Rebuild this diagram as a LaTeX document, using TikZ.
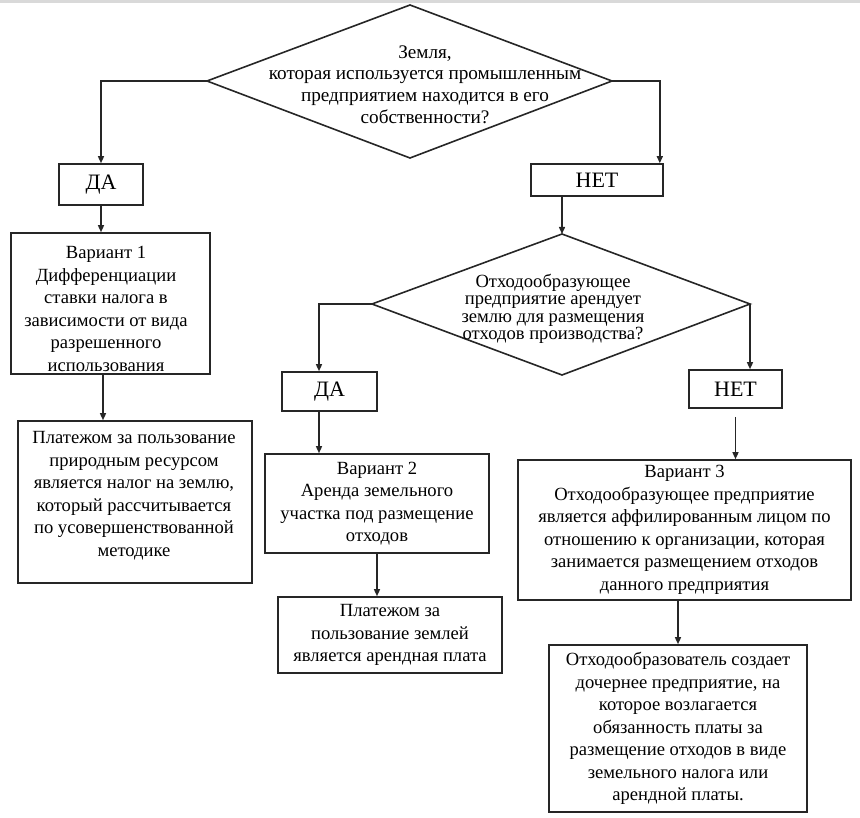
\documentclass[tikz,border=0pt]{standalone}
\usepackage{fontspec}
\setmainfont{Liberation Serif}
\usetikzlibrary{arrows.meta,calc}
\begin{document}
\begin{tikzpicture}[x=1pt,y=-1pt,
 conn/.style={line width=1.4pt, draw=black!85},
 arr/.style={conn, -{Triangle[length=7pt,width=6pt]}},
 box/.style={draw=black!85, line width=1.6pt, inner sep=0pt, align=center, font=\fontsize{18.6}{22.5}\selectfont},
 answer/.style={box, font=\fontsize{22}{24}\selectfont},
 txt/.style={align=center, font=\fontsize{18.6}{22.5}\selectfont, inner sep=0pt},
 shp/.style={draw=black!85, line width=1.6pt},
]
\useasboundingbox (0,0) rectangle (860,818);
\fill[gray!30] (0,0) rectangle (860,3);

% decisions
\draw[shp] (410,5) coordinate (d1t) -- (612,81) coordinate (d1r) -- (410,158) coordinate (d1b) -- (207,81) coordinate (d1l) -- cycle;
\node[txt, font=\fontsize{19.2}{21.7}\selectfont] (d1txt) at (425,84.5) {Земля,\\которая используется промышленным\\предприятием находится в его\\собственности?};

\draw[shp] (562,234) coordinate (d2t) -- (750,304) coordinate (d2r) -- (562,375) coordinate (d2b) -- (372,304) coordinate (d2l) -- cycle;
\node[txt, font=\fontsize{18.6}{17.5}\selectfont] (d2txt) at (553,309) {Отходообразующее\\предприятие арендует\\землю для размещения\\отходов производства?};

% boxes
\node[answer, minimum width=84pt, minimum height=41pt] (da1) at (101,184.5) {ДА};
\node[answer, minimum width=132pt, minimum height=32pt] (net1) at (597,180) {НЕТ};
\node[box, minimum width=199pt, minimum height=141pt] (v1) at (110.5,303.5) {};
\node[txt] (v1txt) at (106,309) {Вариант 1\\Дифференциации\\ставки налога в\\зависимости от вида\\разрешенного\\использования};
\node[box, minimum width=234pt, minimum height=162pt] (p1) at (135,502) {};
\node[txt] (p1txt) at (134,495.5) {Платежом за пользование\\природным ресурсом\\является налог на землю,\\который рассчитывается\\по усовершенствованной\\методике};

\node[answer, minimum width=95pt, minimum height=39pt] (da2) at (329.5,391.5) {ДА};
\node[answer, minimum width=93pt, minimum height=38pt] (net2) at (735.5,389) {НЕТ};
\node[box, minimum width=224pt, minimum height=99pt] (v2) at (377,503.5) {Вариант 2\\Аренда земельного\\участка под размещение\\отходов};
\node[box, minimum width=224pt, minimum height=76pt] (p2) at (390,635) {Платежом за\\пользование землей\\является арендная плата};
\node[box, minimum width=333pt, minimum height=140pt] (v3) at (684.5,530) {Вариант 3\\Отходообразующее предприятие\\является аффилированным лицом по\\отношению к организации, которая\\занимается размещением отходов\\данного предприятия};
\node[box, minimum width=258pt, minimum height=167pt] (p3) at (678,728.5) {Отходообразователь создает\\дочернее предприятие, на\\которое возлагается\\обязанность платы за\\размещение отходов в виде\\земельного налога или\\арендной платы.};

% connectors
\draw[arr] (d1l) -| (da1.north);
\draw[arr] (d1r) -| ([xshift=-4pt]net1.north east);
\draw[arr] (net1.south -| d2t) -- (d2t);
\draw[arr] (da1.south) -- (da1.south |- v1.north);
\draw[arr] ([xshift=-7.5pt]v1.south) -- ([xshift=-7.5pt]v1.south |- p1.north);
\draw[arr] (d2l) -| ([xshift=-10.5pt]da2.north);
\draw[arr] (d2r) -- (d2r |- net2.north);
\draw[arr] ([xshift=-10.5pt]da2.south) -- ([xshift=-10.5pt]da2.south |- v2.north);
\draw[arr] ([yshift=-8pt]net2.south) -- (net2.south |- v3.north);
\draw[arr] (v2.south) -- (v2.south |- p2.north);
\draw[arr] (p3.north |- v3.south) -- (p3.north);
\end{tikzpicture}
\end{document}
